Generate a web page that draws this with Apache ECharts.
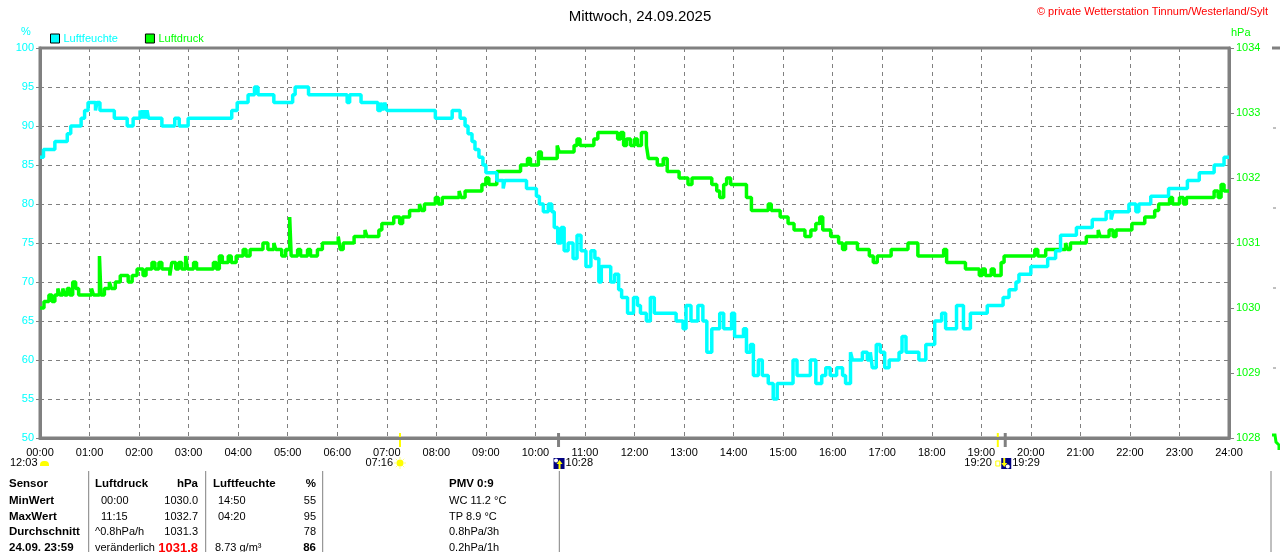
<!DOCTYPE html>
<html>
<head>
<meta charset="utf-8">
<script src="https://cdn.jsdelivr.net/npm/echarts@6/dist/echarts.min.js"></script>
<style>
  html, body { margin: 0; padding: 0; background: #fff; }
  #chart { width: 1280px; height: 552px; }
</style>
</head>
<body>
<div id="chart"></div>
<script>
const HUM_COLOR = '#00ffff'
const PRES_COLOR = '#00ff00'
const AXIS_COLOR = '#808080'
const FONT = 'Liberation Sans, Arial, sans-serif'

// x axis: hours of the day
const hourTicks = [0, 24, 1]

// Luftfeuchte (%) - each point starts a new level (step line)
const humHours = [0.00, 0.07, 0.30, 0.55, 0.62, 0.83, 0.90, 0.97, 1.12, 1.15, 1.21, 1.50, 1.76, 1.88, 2.02, 2.06, 2.09, 2.13, 2.16, 2.19,
  2.46, 2.72, 2.81, 2.99, 3.87, 3.98, 4.20, 4.33, 4.40, 4.72, 5.10, 5.15, 5.42, 6.20, 6.25, 6.48, 6.82, 6.88, 6.92, 6.96,
  7.00, 7.98, 8.32, 8.48, 8.58, 8.64, 8.72, 8.78, 8.86, 8.94, 9.00, 9.22, 9.35, 9.38, 9.82, 10.02, 10.08, 10.16, 10.26, 10.33,
  10.38, 10.45, 10.52, 10.58, 10.66, 10.76, 10.84, 10.92, 11.02, 11.12, 11.20, 11.28, 11.33, 11.52, 11.60, 11.68, 11.74, 11.86, 11.98, 12.06,
  12.12, 12.24, 12.32, 12.40, 12.84, 12.98, 13.04, 13.14, 13.28, 13.38, 13.46, 13.56, 13.72, 13.80, 13.96, 14.02, 14.20, 14.26, 14.34, 14.40,
  14.50, 14.58, 14.70, 14.80, 14.88, 15.20, 15.28, 15.55, 15.66, 15.78, 15.86, 15.95, 16.08, 16.20, 16.26, 16.36, 16.40, 16.60, 16.70, 16.76,
  16.80, 16.88, 16.96, 17.05, 17.14, 17.34, 17.40, 17.48, 17.74, 17.88, 18.06, 18.20, 18.28, 18.50, 18.64, 18.78, 19.12, 19.44, 19.56, 19.70,
  19.76, 20.00, 20.34, 20.50, 20.60, 20.92, 21.24, 21.52, 21.62, 21.66, 21.98, 22.12, 22.18, 22.42, 22.78, 23.16, 23.40, 23.70, 23.90, 24.00]
const humValues = [86, 87, 88, 89, 90, 91, 92, 93, 92, 93, 92, 91, 90, 91, 92, 91, 92, 91, 92, 91,
  90, 91, 90, 91, 92, 93, 94, 95, 94, 93, 94, 95, 94, 93, 94, 93, 92, 93, 92, 93,
  92, 91, 92, 91, 90, 89, 88, 87, 86, 85, 84, 83, 82, 83, 82, 81, 80, 79, 80, 79,
  77, 75, 77, 74, 75, 73, 76, 74, 72, 74, 73, 70, 72, 70, 71, 69, 68, 66, 68, 67,
  66, 65, 68, 66, 65, 64, 67, 65, 67, 65, 61, 64, 66, 64, 66, 63, 64, 61, 62, 58,
  60, 58, 57, 55, 57, 60, 58, 60, 57, 58, 59, 58, 59, 58, 57, 61, 60, 61, 60, 61,
  59, 62, 61, 59, 60, 61, 63, 61, 60, 62, 65, 66, 64, 67, 64, 66, 67, 68, 69, 70,
  71, 72, 73, 74, 76, 77, 78, 79, 78, 79, 80, 79, 80, 81, 82, 83, 84, 85, 86, 86]

// Luftdruck (hPa)
const presHours = [0.00, 0.08, 0.18, 0.24, 0.30, 0.36, 0.40, 0.46, 0.50, 0.55, 0.60, 0.66, 0.72, 0.78, 1.04, 1.08, 1.20, 1.23, 1.30, 1.40,
  1.44, 1.52, 1.62, 1.78, 1.86, 1.96, 2.08, 2.14, 2.26, 2.32, 2.40, 2.46, 2.62, 2.66, 2.74, 2.80, 2.86, 2.94, 2.98, 3.10,
  3.16, 3.50, 3.56, 3.62, 3.68, 3.80, 3.86, 3.96, 4.10, 4.16, 4.24, 4.50, 4.60, 4.72, 4.76, 4.88, 4.96, 5.04, 5.07, 5.20,
  5.26, 5.40, 5.46, 5.60, 5.70, 6.02, 6.06, 6.12, 6.34, 6.56, 6.60, 6.84, 6.90, 7.14, 7.26, 7.32, 7.46, 7.66, 7.70, 7.76,
  7.98, 8.04, 8.12, 8.46, 8.50, 8.58, 8.92, 9.00, 9.06, 9.22, 9.70, 9.84, 9.90, 10.06, 10.12, 10.44, 10.48, 10.78, 10.84, 10.90,
  11.18, 11.26, 11.66, 11.72, 11.78, 11.84, 11.92, 12.00, 12.06, 12.14, 12.24, 12.28, 12.46, 12.58, 12.66, 12.90, 13.08, 13.16, 13.56, 13.66,
  13.72, 13.80, 13.86, 13.94, 14.26, 14.36, 14.70, 14.76, 14.94, 15.10, 15.22, 15.44, 15.56, 15.66, 15.74, 15.80, 15.96, 16.12, 16.20, 16.26,
  16.50, 16.74, 16.82, 16.90, 17.18, 17.52, 17.72, 18.24, 18.30, 18.68, 18.96, 19.02, 19.08, 19.20, 19.26, 19.40, 19.46, 20.08, 20.14, 20.30,
  20.70, 20.74, 20.80, 21.12, 21.36, 21.40, 21.58, 21.66, 21.72, 22.04, 22.30, 22.50, 22.58, 22.80, 22.86, 23.00, 23.08, 23.14, 23.70, 23.78,
  23.84, 23.90, 24.00]
const presValues = [1030.0, 1030.1, 1030.2, 1030.1, 1030.2, 1030.3, 1030.2, 1030.3, 1030.2, 1030.3, 1030.2, 1030.4, 1030.3, 1030.2, 1030.3, 1030.2, 1030.8, 1030.2, 1030.3, 1030.4,
  1030.3, 1030.4, 1030.5, 1030.4, 1030.5, 1030.6, 1030.5, 1030.6, 1030.7, 1030.6, 1030.7, 1030.6, 1030.5, 1030.7, 1030.6, 1030.7, 1030.6, 1030.8, 1030.6, 1030.7,
  1030.6, 1030.7, 1030.6, 1030.8, 1030.7, 1030.8, 1030.7, 1030.8, 1030.9, 1030.8, 1030.9, 1031.0, 1030.9, 1031.0, 1030.9, 1030.8, 1030.9, 1031.4, 1030.8, 1030.9,
  1030.8, 1030.9, 1030.8, 1030.9, 1031.0, 1031.1, 1030.9, 1031.0, 1031.1, 1031.2, 1031.1, 1031.2, 1031.3, 1031.4, 1031.3, 1031.4, 1031.5, 1031.6, 1031.5, 1031.6,
  1031.7, 1031.6, 1031.7, 1031.8, 1031.7, 1031.8, 1031.9, 1032.0, 1031.9, 1032.1, 1032.2, 1032.3, 1032.2, 1032.4, 1032.3, 1032.5, 1032.4, 1032.5, 1032.6, 1032.5,
  1032.6, 1032.7, 1032.6, 1032.7, 1032.5, 1032.6, 1032.5, 1032.6, 1032.5, 1032.7, 1032.5, 1032.3, 1032.2, 1032.3, 1032.1, 1032.0, 1031.9, 1032.0, 1031.9, 1031.8,
  1031.7, 1031.9, 1032.0, 1031.9, 1031.7, 1031.5, 1031.6, 1031.5, 1031.4, 1031.3, 1031.2, 1031.1, 1031.2, 1031.3, 1031.4, 1031.2, 1031.1, 1031.0, 1030.9, 1031.0,
  1030.9, 1030.8, 1030.7, 1030.8, 1030.9, 1031.0, 1030.8, 1030.9, 1030.7, 1030.6, 1030.5, 1030.6, 1030.5, 1030.6, 1030.5, 1030.7, 1030.8, 1030.9, 1030.8, 1030.9,
  1031.0, 1030.9, 1031.0, 1031.1, 1031.2, 1031.1, 1031.2, 1031.1, 1031.2, 1031.3, 1031.4, 1031.5, 1031.6, 1031.7, 1031.6, 1031.7, 1031.6, 1031.7, 1031.8, 1031.7,
  1031.9, 1031.8, 1031.8]

// sun / moon events (hours) shown under the time axis
const sunriseHour = 7 + 16 / 60
const moonriseHour = 10 + 28 / 60
const sunsetHour = 19 + 20 / 60
const moonsetHour = 19 + 29 / 60

// table under the chart
const tableRows = ['Sensor', 'MinWert', 'MaxWert', 'Durchschnitt', '24.09. 23:59']
const presCol = [['Luftdruck', 'hPa'], ['00:00', '1030.0'], ['11:15', '1032.7'], ['^0.8hPa/h', '1031.3'], ['veränderlich', '1031.8']]
const humCol = [['Luftfeuchte', '%'], ['14:50', '55'], ['04:20', '95'], ['', '78'], ['8.73 g/m³', '86']]
const extraCol = ['PMV 0:9', 'WC 11.2 °C', 'TP 8.9 °C', '0.8hPa/3h', '0.2hPa/1h']

const pair = (xs, ys) => xs.map((x, i) => [x, ys[i]])
const pad = (n) => (n < 10 ? '0' : '') + n

const chart = echarts.init(document.getElementById('chart'))

chart.setOption({
  animation: false,
  backgroundColor: '#fff',
  textStyle: { fontFamily: FONT },
  title: {
    text: 'Mittwoch, 24.09.2025',
    left: 'center',
    top: 4,
    textStyle: { fontSize: 15, fontWeight: 'normal', color: '#000', fontFamily: FONT }
  },
  legend: {
    left: 50,
    top: 33,
    padding: 0,
    icon: 'rect',
    itemWidth: 9,
    itemHeight: 9,
    itemGap: 27,
    textStyle: { fontSize: 11, fontFamily: FONT, padding: [0, 0, 0, -1] },
    data: [
      { name: 'Luftfeuchte', textStyle: { color: HUM_COLOR }, itemStyle: { color: HUM_COLOR, borderColor: '#000', borderWidth: 1 } },
      { name: 'Luftdruck', textStyle: { color: PRES_COLOR }, itemStyle: { color: PRES_COLOR, borderColor: '#000', borderWidth: 1 } }
    ]
  },
  grid: {
    left: 40, right: 51, top: 48, bottom: 114,
    show: true, borderColor: AXIS_COLOR, borderWidth: 3
  },
  xAxis: {
    type: 'value',
    min: hourTicks[0], max: hourTicks[1], interval: hourTicks[2],
    axisLine: { show: true, lineStyle: { color: AXIS_COLOR, width: 3 } },
    axisTick: { show: false },
    axisLabel: { color: '#000', fontSize: 11, margin: 9, formatter: (v) => pad(v) + ':00' },
    splitLine: { show: true, lineStyle: { color: AXIS_COLOR, width: 1, type: [4, 4] } }
  },
  yAxis: [
    {
      type: 'value', position: 'left',
      min: 50, max: 100, interval: 5,
      axisLine: { show: true, lineStyle: { color: AXIS_COLOR, width: 3 } },
      axisTick: { show: true, length: 4, lineStyle: { color: AXIS_COLOR } },
      axisLabel: { color: HUM_COLOR, fontSize: 11, margin: 6 },
      splitLine: { show: true, lineStyle: { color: AXIS_COLOR, width: 1, type: [4, 4] } }
    },
    {
      type: 'value', position: 'right',
      min: 1028, max: 1034, interval: 1,
      axisLine: { show: true, lineStyle: { color: AXIS_COLOR, width: 3 } },
      axisTick: { show: true, length: 5, lineStyle: { color: AXIS_COLOR } },
      axisLabel: { color: PRES_COLOR, fontSize: 11, margin: 7, formatter: (v) => String(v) },
      splitLine: { show: false }
    }
  ],
  series: [
    {
      name: 'Luftdruck', type: 'line', yAxisIndex: 1, step: 'end',
      showSymbol: false, symbol: 'none',
      lineStyle: { color: PRES_COLOR, width: 3.5 },
      itemStyle: { color: PRES_COLOR },
      data: pair(presHours, presValues)
    },
    {
      name: 'Luftfeuchte', type: 'line', yAxisIndex: 0, step: 'end',
      showSymbol: false, symbol: 'none',
      lineStyle: { color: HUM_COLOR, width: 3.5 },
      itemStyle: { color: HUM_COLOR },
      data: pair(humHours, humValues)
    }
  ]
})

// --- decorations: units, credits, sun/moon markers, table ---
const px = (h) => chart.convertToPixel({ xAxisIndex: 0 }, h)
const txt = (x, y, s, opt = {}) => ({
  type: 'text', x, y, silent: true,
  style: Object.assign({ text: s, fill: '#000', font: '11px ' + FONT, textAlign: 'left', textVerticalAlign: 'middle' }, opt)
})
const vline = (x, y1, y2, color, w) => ({
  type: 'line', silent: true, shape: { x1: x, y1, x2: x, y2 }, style: { stroke: color, lineWidth: w }
})

const g = []
g.push(txt(26, 32, '%', { fill: HUM_COLOR, textAlign: 'center' }))
g.push(txt(1231, 33, 'hPa', { fill: PRES_COLOR }))
g.push(txt(1268, 12, '© private Wetterstation Tinnum/Westerland/Sylt', { fill: '#ff0000', textAlign: 'right' }))

// moonset at start of the day
g.push(txt(10, 463, '12:03'))
g.push({ type: 'rect', silent: true, shape: { x: 40, y: 461, width: 9, height: 5, r: [4, 4, 0, 0] }, style: { fill: '#ffff00' } })

// sunrise
const xSr = px(sunriseHour)
g.push(vline(xSr, 433, 447, '#ffff00', 2))
g.push(txt(xSr - 7, 463, '07:16', { textAlign: 'right' }))
for (let k = 0; k < 8; k++) {
  const a = k * Math.PI / 4
  g.push({ type: 'line', silent: true,
    shape: { x1: xSr + Math.cos(a) * 4, y1: 463 + Math.sin(a) * 4, x2: xSr + Math.cos(a) * 6, y2: 463 + Math.sin(a) * 6 },
    style: { stroke: '#ffff80', lineWidth: 1 } })
}
g.push({ type: 'circle', silent: true, shape: { cx: xSr, cy: 463, r: 3.5 }, style: { fill: '#ffff00' } })

// moonrise
const xMr = px(moonriseHour)
g.push(vline(xMr, 433, 447, AXIS_COLOR, 3))
g.push({ type: 'rect', silent: true, shape: { x: xMr - 5, y: 458, width: 11, height: 11 }, style: { fill: '#000080' } })
g.push({ type: 'circle', silent: true, shape: { cx: xMr - 2.5, cy: 460.5, r: 2 }, style: { fill: '#fff' } })
g.push(vline(xMr + 1, 462, 469, '#ffff00', 2))
g.push({ type: 'polygon', silent: true, shape: { points: [[xMr - 2, 464], [xMr + 4, 464], [xMr + 1, 460]] }, style: { fill: '#ffff00' } })
g.push(txt(xMr + 7, 463, '10:28'))

// sunset
const xSs = px(sunsetHour)
g.push(vline(xSs, 433, 447, '#ffff00', 2))
g.push(txt(xSs - 6, 463, '19:20', { textAlign: 'right' }))
g.push({ type: 'rect', silent: true, shape: { x: xSs - 2, y: 461, width: 4, height: 5 }, style: { fill: 'none', stroke: '#ffff00', lineWidth: 1 } })

// moonset
const xMs = px(moonsetHour)
g.push(vline(xMs, 433, 447, AXIS_COLOR, 3))
g.push({ type: 'rect', silent: true, shape: { x: xMs - 4, y: 458, width: 10, height: 11 }, style: { fill: '#000080' } })
g.push({ type: 'circle', silent: true, shape: { cx: xMs + 2.5, cy: 466.5, r: 2 }, style: { fill: '#fff' } })
g.push(vline(xMs - 1, 458, 465, '#ffff00', 2))
g.push({ type: 'polygon', silent: true, shape: { points: [[xMs - 4, 463], [xMs + 2, 463], [xMs - 1, 467]] }, style: { fill: '#ffff00' } })
g.push(txt(xMs + 7, 463, '19:29'))

// table
const rowY = [484, 500.7, 516.7, 532, 548]
const bold = 'bold 11.5px ' + FONT
tableRows.forEach((r, i) => g.push(txt(9, rowY[i], r, { font: bold })))
presCol.forEach((c, i) => {
  const head = i === 0
  const now = i === 4
  g.push(txt(i === 0 || i >= 3 ? 95 : 101, rowY[i], c[0], head ? { font: bold } : {}))
  g.push(txt(198, rowY[i], c[1], head ? { font: bold, textAlign: 'right' }
    : now ? { font: 'bold 13px ' + FONT, fill: '#ff0000', textAlign: 'right' } : { textAlign: 'right' }))
})
humCol.forEach((c, i) => {
  const head = i === 0
  g.push(txt(head ? 213 : (i === 4 ? 215 : 218), rowY[i], c[0], head ? { font: bold } : {}))
  g.push(txt(316, rowY[i], c[1], head || i === 4 ? { font: bold, textAlign: 'right' } : { textAlign: 'right' }))
})
extraCol.forEach((s, i) => g.push(txt(449, rowY[i], s, i === 0 ? { font: bold } : {})))
;[88.7, 205.7, 322.7, 559.3, 1271].forEach((x) => g.push(vline(x, 471, 552, AXIS_COLOR, 1)))

// edge of the neighbouring panel, cut off at the right border
g.push({ type: 'line', silent: true, shape: { x1: 1272, y1: 48, x2: 1280, y2: 48 }, style: { stroke: AXIS_COLOR, lineWidth: 3 } })
;[128, 208, 288, 368].forEach((y) => g.push({ type: 'line', silent: true, shape: { x1: 1273, y1: y, x2: 1278, y2: y }, style: { stroke: AXIS_COLOR, lineWidth: 1, lineDash: [3, 2] } }))
g.push({ type: 'polyline', silent: true, shape: { points: [[1272, 435], [1275, 435], [1276, 442], [1279, 445], [1279, 450]] }, style: { stroke: PRES_COLOR, lineWidth: 3, fill: 'none' } })

chart.setOption({ graphic: g })
</script>
</body>
</html>
